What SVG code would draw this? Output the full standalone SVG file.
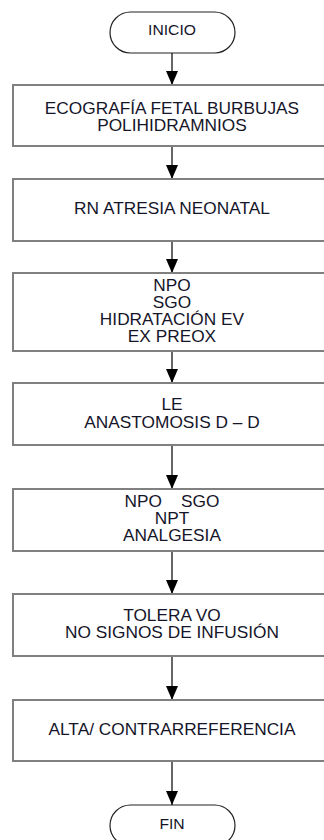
<svg xmlns="http://www.w3.org/2000/svg" width="324" height="840" viewBox="0 0 324 840">
<defs>
<style>
.box{fill:#fff;stroke:#808080;stroke-width:2}
.term{fill:#fff;stroke:#222;stroke-width:1.2}
.lbl{font-family:"Liberation Sans",Arial,sans-serif;font-size:16px;fill:#15152a;text-anchor:middle}
.tl{font-family:"Liberation Sans",Arial,sans-serif;font-size:14.5px;fill:#15152a;text-anchor:middle}
.conn{stroke:#000;stroke-width:1.2;fill:none;marker-end:url(#ah)}
</style>
<marker id="ah" markerUnits="userSpaceOnUse" markerWidth="14" markerHeight="12" refX="14" refY="6" orient="auto">
<path d="M0,0 L14,6 L0,12 Z" fill="#000"/>
</marker>
</defs>
<rect width="324" height="840" fill="#fff"/>
<g id="connectors">
<line class="conn" x1="172" y1="53" x2="172" y2="85"/>
<line class="conn" x1="172" y1="146" x2="172" y2="179"/>
<line class="conn" x1="172" y1="241" x2="172" y2="273"/>
<line class="conn" x1="172" y1="351" x2="172" y2="383"/>
<line class="conn" x1="172" y1="445" x2="172" y2="489"/>
<line class="conn" x1="172" y1="551" x2="172" y2="594"/>
<line class="conn" x1="172" y1="656" x2="172" y2="700"/>
<line class="conn" x1="172" y1="761" x2="172" y2="805"/>
</g>
<g id="inicio">
<rect class="term" x="110" y="12" width="125" height="41" rx="20.5"/>
<text class="tl" x="172" y="35" transform="translate(172 0) scale(1.08 1) translate(-172 0)">INICIO</text>
</g>
<g id="n1">
<rect class="box" x="13" y="85" width="320" height="61"/>
<g transform="translate(172 0) scale(1.08 1) translate(-172 0)">
<text class="lbl" x="172" y="114">ECOGRAFÍA FETAL BURBUJAS</text>
<text class="lbl" x="172" y="131">POLIHIDRAMNIOS</text>
</g>
</g>
<g id="n2">
<rect class="box" x="13" y="179" width="320" height="62"/>
<text class="lbl" x="172" y="214" transform="translate(172 0) scale(1.08 1) translate(-172 0)">RN ATRESIA NEONATAL</text>
</g>
<g id="n3">
<rect class="box" x="13" y="273" width="320" height="78"/>
<g transform="translate(172 0) scale(1.08 1) translate(-172 0)">
<text class="lbl" x="172" y="291">NPO</text>
<text class="lbl" x="172" y="308">SGO</text>
<text class="lbl" x="172" y="325">HIDRATACIÓN EV</text>
<text class="lbl" x="172" y="342">EX PREOX</text>
</g>
</g>
<g id="n4">
<rect class="box" x="13" y="383" width="320" height="62"/>
<g transform="translate(172 0) scale(1.08 1) translate(-172 0)">
<text class="lbl" x="172" y="410">LE</text>
<text class="lbl" x="172" y="428">ANASTOMOSIS D – D</text>
</g>
</g>
<g id="n5">
<rect class="box" x="13" y="489" width="320" height="62"/>
<g transform="translate(172 0) scale(1.08 1) translate(-172 0)">
<text class="lbl" x="172" y="507" xml:space="preserve">NPO    SGO</text>
<text class="lbl" x="172" y="524">NPT</text>
<text class="lbl" x="172" y="541">ANALGESIA</text>
</g>
</g>
<g id="n6">
<rect class="box" x="13" y="594" width="320" height="62"/>
<g transform="translate(172 0) scale(1.08 1) translate(-172 0)">
<text class="lbl" x="172" y="621">TOLERA VO</text>
<text class="lbl" x="172" y="638">NO SIGNOS DE INFUSIÓN</text>
</g>
</g>
<g id="n7">
<rect class="box" x="13" y="700" width="320" height="61"/>
<text class="lbl" x="172" y="735" transform="translate(172 0) scale(1.08 1) translate(-172 0)">ALTA/ CONTRARREFERENCIA</text>
</g>
<g id="fin">
<rect class="term" x="110" y="805" width="125" height="41" rx="20.5"/>
<text class="tl" x="172" y="829" transform="translate(172 0) scale(1.08 1) translate(-172 0)">FIN</text>
</g>
</svg>
